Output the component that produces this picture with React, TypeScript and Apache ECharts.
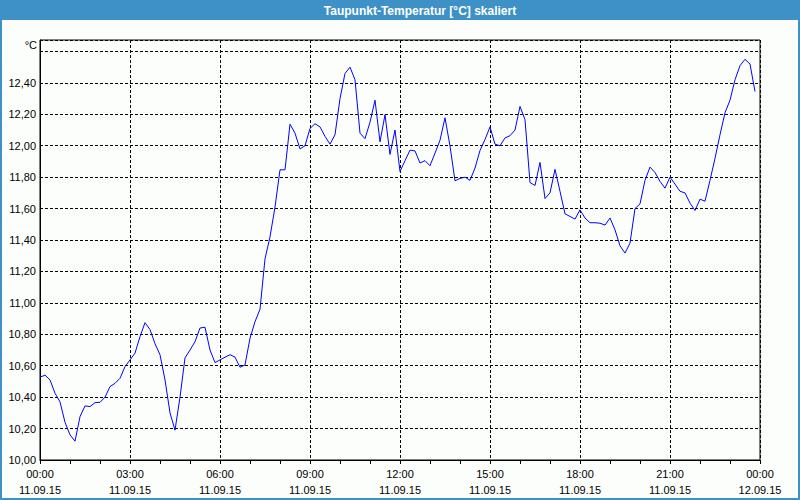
import React, { useEffect, useRef } from "react";
import * as echarts from "echarts";

const TITLE = "Taupunkt-Temperatur [°C] skaliert";
const UNIT = "°C";
const STEP_MINUTES = 10;
// Dew point readings every 10 minutes from 11.09.15 00:00 to 23:50
const dewPoint: number[] = [
  10.527, 10.54, 10.51, 10.425, 10.37, 10.24, 10.16, 10.12, 10.276, 10.344,
  10.34, 10.365, 10.367, 10.4, 10.467, 10.488, 10.52, 10.594, 10.637, 10.68,
  10.785, 10.874, 10.83, 10.74, 10.67, 10.51, 10.3, 10.19, 10.4, 10.65,
  10.7, 10.753, 10.84, 10.845, 10.7, 10.62, 10.637, 10.654, 10.67, 10.655,
  10.59, 10.605, 10.775, 10.88, 10.96, 11.28, 11.42, 11.61, 11.847, 11.847,
  12.137, 12.08, 11.98, 12.0, 12.11, 12.14, 12.12, 12.06, 12.01, 12.07,
  12.3, 12.46, 12.5, 12.42, 12.08, 12.045, 12.15, 12.29, 12.025, 12.197,
  11.945, 12.1, 11.836, 11.905, 11.972, 11.967, 11.89, 11.905, 11.873, 11.953,
  12.035, 12.178, 11.998, 11.777, 11.792, 11.8, 11.78, 11.858, 11.97, 12.04,
  12.12, 12.01, 12.0, 12.05, 12.064, 12.1, 12.25, 12.166, 11.766, 11.747,
  11.894, 11.664, 11.7, 11.85, 11.71, 11.567, 11.55, 11.533, 11.592, 11.54,
  11.51, 11.51, 11.507, 11.495, 11.54, 11.465, 11.363, 11.317, 11.38, 11.6,
  11.63, 11.78, 11.864, 11.83, 11.773, 11.73, 11.8, 11.756, 11.71, 11.7,
  11.635, 11.588, 11.66, 11.647, 11.78, 11.92, 12.07, 12.21, 12.29, 12.42,
  12.51, 12.55, 12.52, 12.345,
];
const DAY1 = "11.09.15";
const DAY2 = "12.09.15";
const Y_MIN = 10;
const Y_MAX = 12.673;
const Y_STEP = 0.2;
const Y_LABEL_LIMIT = 12.5;

const FONT = "Liberation Sans";

export default function App() {
  const ref = useRef<HTMLDivElement>(null);
  useEffect(() => {
    if (!ref.current) return;
    const chart = echarts.init(ref.current, undefined, { renderer: "svg" });
    const data = dewPoint.map((v, i) => [i * STEP_MINUTES, v]);
    chart.setOption({
      animation: false,
      backgroundColor: "#fcfefc",
      grid: {
        left: 40,
        right: 40,
        top: 40,
        bottom: 40,
        show: true,
        borderColor: "#000",
        borderWidth: 1,
        backgroundColor: "transparent",
      },
      xAxis: {
        type: "value",
        min: 0,
        max: 1440,
        interval: 180,
        axisLine: { show: true, onZero: false, lineStyle: { color: "#000", width: 1 } },
        axisTick: { show: true, length: 4, lineStyle: { color: "#000" } },
        minorTick: { show: true, splitNumber: 3, length: 4, lineStyle: { color: "#000" } },
        splitLine: { show: true, lineStyle: { color: "#000", type: [3, 2], width: 1 } },
        axisLabel: {
          margin: 6,
          fontFamily: FONT,
          fontSize: 11,
          color: "#000",
          lineHeight: 16,
          formatter: (v: number) => {
            const h = Math.round(v / 60) % 24;
            const hh = (h < 10 ? "0" : "") + h + ":00";
            return hh + "\n" + (v >= 1440 ? DAY2 : DAY1);
          },
        },
      },
      yAxis: {
        type: "value",
        min: Y_MIN,
        max: Y_MAX,
        interval: Y_STEP,
        axisLine: { show: true, lineStyle: { color: "#000", width: 1 } },
        axisTick: { show: false },
        splitLine: { show: true, lineStyle: { color: "#000", type: [3, 2], width: 1 } },
        axisLabel: {
          margin: 4,
          fontFamily: FONT,
          fontSize: 11,
          color: "#000",
          showMaxLabel: false,
          formatter: (v: number) => (v > Y_LABEL_LIMIT ? "" : v.toFixed(2).replace(".", ",")),
        },
      },
      series: [
        {
          type: "line",
          data,
          showSymbol: false,
          symbol: "none",
          lineStyle: { color: "#0000ff", width: 1 },
        },
      ],
      graphic: [
        { type: "rect", shape: { x: 0, y: 0, width: 800, height: 20 }, style: { fill: "#3d91c6" } },
        { type: "rect", shape: { x: 0, y: 0, width: 2, height: 500 }, style: { fill: "#3d91c6" } },
        { type: "rect", shape: { x: 798, y: 0, width: 2, height: 500 }, style: { fill: "#3d91c6" } },
        { type: "rect", shape: { x: 0, y: 498, width: 800, height: 2 }, style: { fill: "#3d91c6" } },
        {
          type: "text",
          x: 420,
          y: 11,
          style: {
            text: TITLE,
            fill: "#fff",
            font: `bold 12px "${FONT}"`,
            align: "center",
            verticalAlign: "middle",
          },
        },
        {
          type: "text",
          x: 37,
          y: 45,
          style: {
            text: UNIT,
            fill: "#000",
            font: `11px "${FONT}"`,
            align: "right",
            verticalAlign: "middle",
          },
        },
      ],
    });
    return () => chart.dispose();
  }, []);
  return (
    <div style={{ position: "fixed", left: 0, top: 0, width: 800, height: 500 }}>
      <div ref={ref} style={{ width: 800, height: 500 }} />
    </div>
  );
}
